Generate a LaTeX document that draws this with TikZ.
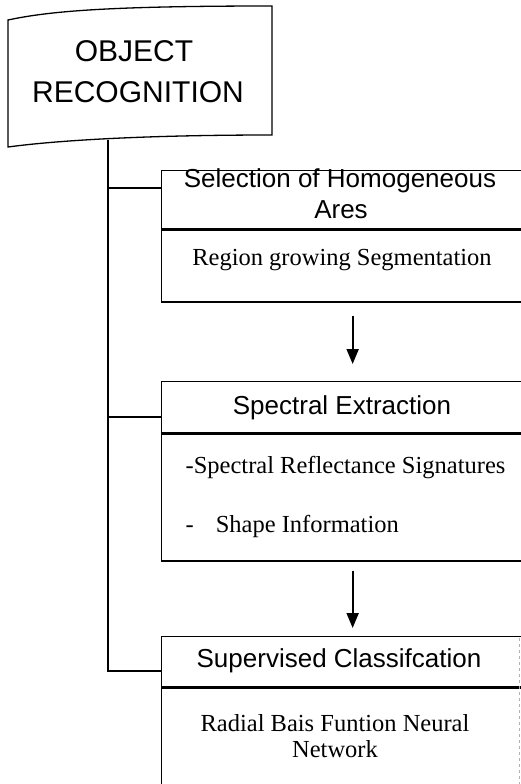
\documentclass[tikz,border=0pt]{standalone}
\usepackage{fontspec}
\setmainfont{Liberation Serif}
\newfontfamily\headfont{Liberation Sans}
\usetikzlibrary{arrows.meta,positioning}

\begin{document}
\begin{tikzpicture}[x=1pt,y=-1pt,line width=1.3pt,>={Triangle[width=12pt,length=15pt]}]

\tikzset{
	boxpart/.style={draw,anchor=north west,minimum width=362pt,inner sep=0pt},
	bigtxt/.style={font=\headfont\fontsize{30}{36}\selectfont,anchor=base,inner sep=0pt},
	headtxt/.style={font=\headfont\fontsize{26}{31}\selectfont,anchor=base,inner sep=0pt},
	bodytxt/.style={font=\fontsize{24.5}{29}\selectfont,anchor=base,inner sep=0pt},
	arr/.style={->,line width=2pt}
}

\useasboundingbox (0,0) rectangle (521,784);
\clip (0,0) rectangle (521,784);

% top box
\draw (8,20) .. controls (50,11) and (110,6) .. (272,6) -- (272,135)
	.. controls (150,135) and (60,140) .. (8,147) -- cycle;
\node[bigtxt] (obj) at (134,62) {OBJECT};
\node[bigtxt] (rec) at (138,102) {RECOGNITION};
\coordinate (objbot) at (108,140);

% boxes
\node[boxpart,minimum height=58pt] (selhead) at (161,170) {};
\node[boxpart,minimum height=72pt,below=0pt of selhead] (selbody) {};
\node[boxpart,minimum height=51pt] (spechead) at (161,381) {};
\node[boxpart,minimum height=127pt,below=0pt of spechead] (specbody) {};
\node[boxpart,minimum height=50pt] (suphead) at (161,636) {};
\node[boxpart,minimum height=120pt,below=0pt of suphead] (supbody) {};
\draw[gray!60,dashed,line width=0.6pt] (519.5,638) -- (519.5,784);

% texts
\node[headtxt] (sel1) at (340,187) {Selection of Homogeneous};
\node[headtxt] (sel2) at (341,218) {Ares};
\node[bodytxt] (seg) at (342,265) {Region growing Segmentation};

\node[headtxt] (spec) at (342,414) {Spectral Extraction};
\node[bodytxt,anchor=base west] (refl) at (185,473) {-Spectral Reflectance Signatures};
\node[bodytxt,anchor=base west] (shape) at (185,532) {-\hspace{22pt}Shape Information};

\node[headtxt] (sup) at (339,667) {Supervised Classifcation};
\node[bodytxt] (rbf1) at (335,731) {Radial Bais Funtion Neural};
\node[bodytxt] (rbf2) at (335,757) {Network};

% tree lines
\coordinate (b1) at ([yshift=-18pt]selhead.north west);
\coordinate (b2) at ([yshift=-36pt]spechead.north west);
\coordinate (b3) at ([yshift=-35pt]suphead.north west);
\draw (objbot) |- (b3);
\draw (b1 -| objbot) -- (b1);
\draw (b2 -| objbot) -- (b2);

% arrows
\draw[arr,shorten <=13pt,shorten >=17pt] ([xshift=10pt]selbody.south) -- ([xshift=10pt]spechead.north);
\draw[arr,shorten <=9pt,shorten >=8pt] ([xshift=10pt]specbody.south) -- ([xshift=10pt]suphead.north);

\end{tikzpicture}
\end{document}
